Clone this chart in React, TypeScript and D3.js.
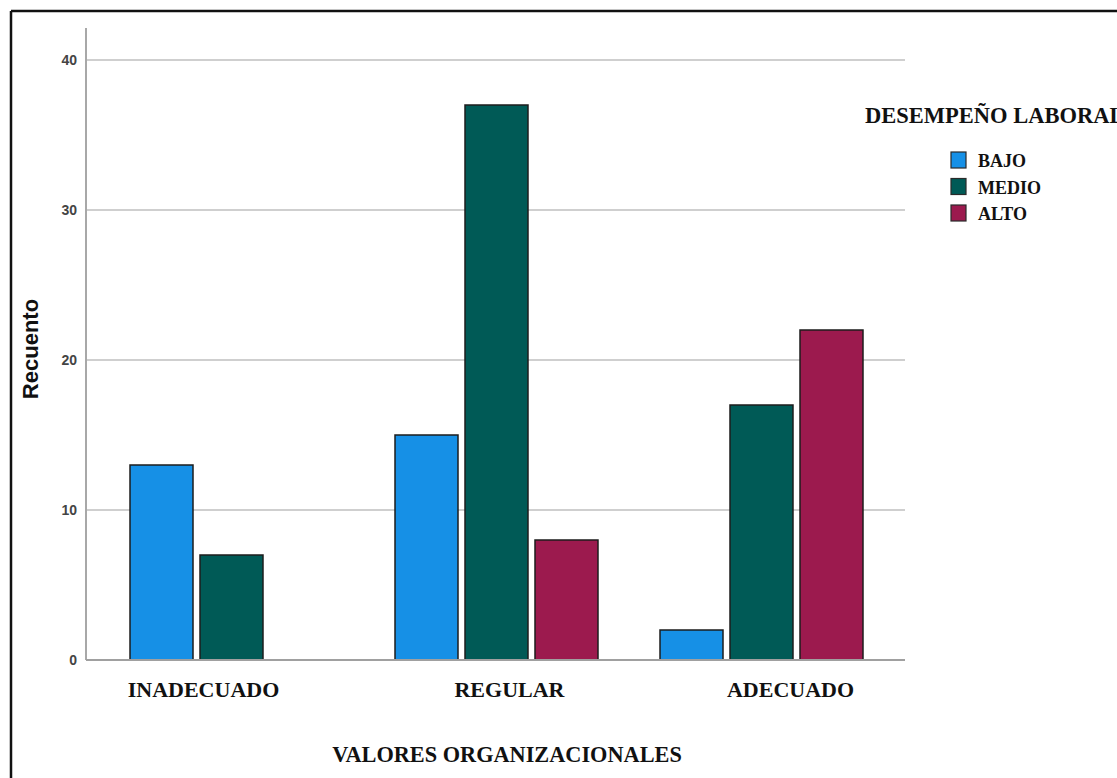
import React from "react";
import * as d3 from "d3";

// Recuento de desempeño laboral por nivel de valores organizacionales
const categories = ["INADECUADO", "REGULAR", "ADECUADO"];
const seriesNames = ["BAJO", "MEDIO", "ALTO"];
const bajo = [13, 15, 2];
const medio = [7, 37, 17];
const alto = [0, 8, 22];
const yTicks = [0, 10, 20, 30, 40];
const seriesColors = ["#1690e6", "#005a56", "#9c1a4e"];
// small horizontal nudge of each category label relative to its group centre
const labelShift = [-28, 13, 29];

const W = 1117;
const H = 778;

export default function App() {
  const seriesValues = [bajo, medio, alto];

  const x = d3
    .scaleBand<string>()
    .domain(categories)
    .range([99, 894])
    .paddingInner(0.234)
    .paddingOuter(0.117);

  const xInner = d3
    .scaleBand<string>()
    .domain(seriesNames)
    .range([0, x.bandwidth()])
    .paddingInner(0.1);

  const y = d3.scaleLinear().domain([0, 40]).range([660, 60]);

  const plotLeft = 86;
  const plotRight = 905;
  const axisTop = 28;

  const serif = "'Liberation Serif', 'Times New Roman', serif";
  const sans = "'Liberation Sans', Arial, sans-serif";

  return (
    <svg
      width={W}
      height={H}
      style={{ position: "absolute", left: 0, top: 0, background: "#fff" }}
    >
      {/* frame */}
      <rect x={0} y={0} width={W} height={H} fill="#fff" />
      <line x1={11} y1={11} x2={W} y2={11} stroke="#111" strokeWidth={2.5} />
      <line x1={11} y1={11} x2={11} y2={H} stroke="#111" strokeWidth={2.5} />

      {/* gridlines */}
      {yTicks
        .filter((t) => t !== 0)
        .map((t) => (
          <line
            key={"g" + t}
            x1={plotLeft}
            x2={plotRight}
            y1={y(t)}
            y2={y(t)}
            stroke="#cfcfcf"
            strokeWidth={2}
          />
        ))}

      {/* y axis */}
      <line
        x1={plotLeft}
        x2={plotLeft}
        y1={axisTop}
        y2={y(0)}
        stroke="#a8a8a8"
        strokeWidth={2}
      />
      {yTicks.map((t) => (
        <text
          key={"t" + t}
          x={plotLeft - 9}
          y={y(t)}
          dy="0.36em"
          textAnchor="end"
          fontFamily={sans}
          fontSize={14}
          fontWeight="bold"
          fill="#444"
        >
          {t}
        </text>
      ))}
      <text
        transform={`translate(38, 349) rotate(-90)`}
        textAnchor="middle"
        fontFamily={sans}
        fontSize={22}
        fontWeight="bold"
        fill="#111"
      >
        Recuento
      </text>

      {/* bars */}
      {categories.map((c, ci) =>
        seriesNames.map((s, si) => {
          const v = seriesValues[si][ci];
          if (v <= 0) return null;
          return (
            <rect
              key={c + s}
              x={(x(c) ?? 0) + (xInner(s) ?? 0)}
              y={y(v)}
              width={xInner.bandwidth()}
              height={y(0) - y(v)}
              fill={seriesColors[si]}
              stroke="#1c1c1c"
              strokeWidth={1.5}
            />
          );
        })
      )}

      {/* baseline */}
      <line
        x1={plotLeft}
        x2={plotRight}
        y1={y(0)}
        y2={y(0)}
        stroke="#a0a0a0"
        strokeWidth={2}
      />

      {/* category labels */}
      {categories.map((c, ci) => (
        <text
          key={"c" + c}
          x={(x(c) ?? 0) + x.bandwidth() / 2 + labelShift[ci]}
          y={697}
          textAnchor="middle"
          fontFamily={serif}
          fontWeight="bold"
          fontSize={22}
          fill="#111"
        >
          {c}
        </text>
      ))}

      {/* x axis title */}
      <text
        x={507}
        y={762}
        textAnchor="middle"
        fontFamily={serif}
        fontWeight="bold"
        fontSize={22.3}
        fill="#111"
      >
        VALORES ORGANIZACIONALES
      </text>

      {/* legend */}
      <text
        x={865}
        y={123}
        fontFamily={serif}
        fontWeight="bold"
        fontSize={22.5}
        fill="#111"
      >
        DESEMPEÑO LABORAL
      </text>
      {seriesNames.map((s, si) => (
        <g key={"l" + s} transform={`translate(951, ${152 + si * 26.5})`}>
          <rect
            width={15}
            height={16}
            fill={seriesColors[si]}
            stroke="#2a2a2a"
            strokeWidth={1.2}
          />
          <text
            x={27}
            y={15}
            fontFamily={serif}
            fontWeight="bold"
            fontSize={18}
            fill="#111"
          >
            {s}
          </text>
        </g>
      ))}
    </svg>
  );
}
